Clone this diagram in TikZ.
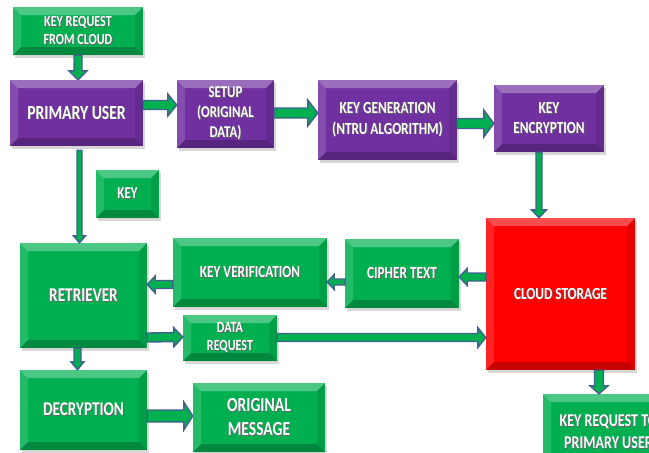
\documentclass[tikz,border=0pt]{standalone}
\usepackage{fontspec}
\newfontfamily\cf[FakeStretch=0.78]{Carlito}
\usetikzlibrary{calc,shadows}
\definecolor{grn}{HTML}{00B050}
\definecolor{prp}{HTML}{7030A0}
\definecolor{rd}{HTML}{FF0000}
\definecolor{olc}{HTML}{41628F}
\newcommand\shd[1]{\makebox[0pt][l]{\hspace{0.8pt}\raisebox{-0.9pt}{\color{black!60}#1}}#1}
\newcommand\fs[1]{\fontsize{#1}{\fpeval{1.2*#1}}\selectfont}
\tikzset{
  x=1pt, y=-1pt,
  bevel/.style={path picture={
    \path (path picture bounding box.south west) coordinate (bsw)
          (path picture bounding box.north east) coordinate (bne);
    \path (bsw) ++(8pt,8pt) coordinate (isw);
    \path (bne) ++(-8pt,-8pt) coordinate (ine);
    \fill[white,opacity=0.30] (bsw|-bne) -- (bne) -- (ine) -- (isw|-ine) -- cycle;
    \fill[white,opacity=0.14] (bsw) -- (bsw|-bne) -- (isw|-ine) -- (isw) -- cycle;
    \fill[black,opacity=0.10] (bne|-bsw) -- (bne) -- (ine) -- (ine|-isw) -- cycle;
    \fill[black,opacity=0.22] (bsw) -- (bne|-bsw) -- (ine|-isw) -- (isw) -- cycle;
  }},
  box/.style={rectangle, inner sep=0pt, text=white, align=center, bevel,
    drop shadow={shadow xshift=1.5pt, shadow yshift=-2.5pt, opacity=0.3},
    font=\cf\bfseries\fs{17}},
  grbox/.style={box, fill=grn},
  prbox/.style={box, fill=prp},
  rdbox/.style={box, fill=rd},
  barrow/.style args={#1/#2/#3}{draw=olc, line width=1.4pt, fill=grn, line join=miter,
    to path={let \p1=(\tikztostart), \p2=(\tikztotarget), \p3=($(\p2)!#3pt!(\p1)$) in
      ($(\p1)!#1pt!90:(\p2)$) -- ($(\p3)!#1pt!-90:(\p1)$) -- ($(\p3)!#2pt!-90:(\p1)$)
      -- (\p2) -- ($(\p3)!#2pt!90:(\p1)$) -- ($(\p3)!#1pt!90:(\p1)$)
      -- ($(\p1)!#1pt!-90:(\p2)$) -- cycle}}
}
\begin{document}
\begin{tikzpicture}
\useasboundingbox (0,0) rectangle (649,453);
\fill[white] (0,0) rectangle (649,453);

\node[grbox, minimum width=130pt, minimum height=48pt, font=\cf\bfseries\fs{15.5}] (krfc) at (78,31) {\shd{KEY REQUEST}\\\shd{FROM CLOUD}};
\node[prbox, minimum width=133pt, minimum height=66pt, font=\cf\bfseries\fs{20}] (pu) at (76.5,113) {\shd{PRIMARY USER}};
\node[prbox, minimum width=97pt, minimum height=68pt, font=\cf\bfseries\fs{16.5}] (setup) at (225.5,114) {\shd{SETUP}\\\shd{(ORIGINAL}\\\shd{DATA)}};
\node[prbox, minimum width=139pt, minimum height=80pt] (keygen) at (387.5,120) {\shd{KEY GENERATION}\\\shd{(NTRU ALGORITHM)}};
\node[prbox, minimum width=110pt, minimum height=67pt] (keyenc) at (549,118.5) {\shd{KEY}\\\shd{ENCRYPTION}};
\node[grbox, minimum width=63pt, minimum height=48pt, font=\cf\bfseries\fs{16.5}] (key) at (127.5,194) {\shd{KEY}};
\node[grbox, minimum width=127pt, minimum height=105pt, font=\cf\bfseries\fs{19.5}] (ret) at (83.5,295.5) {\shd{RETRIEVER}};
\node[grbox, minimum width=154pt, minimum height=69pt] (kver) at (250,272.5) {\shd{KEY VERIFICATION}};
\node[grbox, minimum width=114pt, minimum height=69pt] (ciph) at (402,273.5) {\shd{CIPHER TEXT}};
\node[rdbox, minimum width=149pt, minimum height=152pt] (cloud) at (560.5,294) {\shd{CLOUD STORAGE}};
\node[grbox, minimum width=94pt, minimum height=46pt, font=\cf\bfseries\fs{15.5}] (dreq) at (230,338) {\shd{DATA}\\\shd{REQUEST}};
\node[grbox, minimum width=127pt, minimum height=80pt, font=\cf\bfseries\fs{19.5}] (dec) at (83.5,410) {\shd{DECRYPTION}};
\node[grbox, minimum width=132pt, minimum height=69pt, font=\cf\bfseries\fs{20}] (orig) at (259,417.5) {\shd{ORIGINAL}\\\shd{MESSAGE}};
\node[grbox, minimum width=131pt, minimum height=76pt, font=\cf\bfseries\fs{18}] (krtpu) at (608.5,432) {\shd{KEY REQUEST TO}\\\shd{PRIMARY USER}};

\draw[barrow=4/9/9] (krfc.south) to ($(pu.north)+(1.5,0)$);
\draw[barrow=4.5/11/9] ($(pu.east)+(0,-8)$) to ($(setup.west)+(0,-9)$);
\draw[barrow=5/13/10] ($(setup.east)+(0,-1)$) to ($(keygen.west)+(0,-7)$);
\draw[barrow=5/13.5/10] ($(keygen.east)+(0,3.5)$) to ($(keyenc.west)+(0,5)$);
\draw[barrow=3/7.5/8] ($(keyenc.south)+(-10,0)$) to ($(cloud.north)+(-21.5,0)$);
\draw[barrow=2.5/6/7] ($(pu.south)+(3,4)$) to ($(ret.north)+(-4,0)$);
\draw[barrow=4/8.5/8] ($(cloud.west)+(0,-17)$) to ($(ciph.east)+(0,3.5)$);
\draw[barrow=3/7.5/7] ($(ciph.west)+(0,8.5)$) to ($(kver.east)+(0,9.5)$);
\draw[barrow=4/8.5/8] ($(kver.west)+(0,12)$) to ($(ret.east)+(0,-11)$);
\draw[barrow=4.5/9.5/9] ($(ret.east)+(0,42)$) to ($(dreq.west)+(0,-1)$);
\draw[barrow=4/10/8] ($(dreq.east)+(0,-0.5)$) to ($(cloud.west)+(0,43.5)$);
\draw[barrow=3.5/6.5/8] ($(ret.south)+(-6,0)$) to ($(dec.north)+(-6,0)$);
\draw[barrow=6/14/9] ($(dec.east)+(0,6)$) to ($(orig.west)+(0,-1.5)$);
\draw[barrow=4.5/9/8] ($(cloud.south)+(38.5,0)$) to ($(krtpu.north)+(-9.5,0)$);
\end{tikzpicture}
\end{document}
